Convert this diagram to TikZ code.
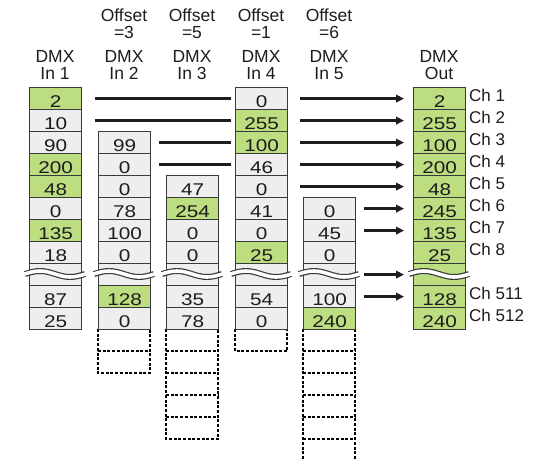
\documentclass[tikz,border=0pt]{standalone}
\usepackage{fontspec}
\setmainfont{Liberation Sans}
\usetikzlibrary{arrows.meta}
\definecolor{cgreen}{RGB}{188,221,128}
\definecolor{cgray}{RGB}{238,238,238}
\definecolor{cedge}{RGB}{58,58,58}
\definecolor{ink}{RGB}{30,28,28}
\newcommand\cellval[1]{\scalebox{1.22}[1]{#1}}
\begin{document}
\begin{tikzpicture}[x=1pt,y=-1pt,
  cellbox/.style={draw=cedge, line width=1.2pt, minimum width=52pt, minimum height=22pt,
    inner sep=0pt, anchor=north west, text height=17pt, text depth=0pt,
    font=\fontsize{17}{17}\selectfont, text=ink},
  gcell/.style={cellbox, fill=cgreen},
  wcell/.style={cellbox, fill=cgray},
  ghostline/.style={draw=black, line width=1.6pt, dash pattern=on 3pt off 1.7pt},
  head/.style={font=\fontsize{17.5}{17.5}\selectfont, text=ink, anchor=base, inner sep=0pt},
  chlab/.style={font=\fontsize{17}{17}\selectfont, text=ink, anchor=base west, inner sep=0pt},
  conn/.style={draw=ink, line width=3pt},
  arr/.style={conn, -{Triangle[length=8pt,width=7.5pt]}},
  wavedark/.style={draw=cedge, line width=6pt},
  wavelight/.style={draw=white, line width=3.6pt}
]
\useasboundingbox[fill=white] (0,0) rectangle (537,458);

% dashed empty cells below the shifted inputs
\draw[ghostline] (98,329) rectangle (150,373);
\draw[ghostline] (98,351) -- (150,351);
\draw[ghostline] (166,329) rectangle (218,439);
\foreach \y in {351,373,395,417} \draw[ghostline] (166,\y) -- (218,\y);
\draw[ghostline] (235,329) rectangle (287,351);
\draw[ghostline] (303,329) -- (303,462);
\draw[ghostline] (355,329) -- (355,462);
\foreach \y in {351,373,395,417,439} \draw[ghostline] (303,\y) -- (355,\y);

% column In 1
\foreach \r/\v/\s in {1/2/gcell,2/10/wcell,3/90/wcell,4/200/gcell,5/48/gcell,6/0/wcell,
    7/135/gcell,8/18/wcell,9//wcell,10/87/wcell,11/25/wcell}
  \node[\s] (a\r) at (29,{87+22*(\r-1)}) {\cellval{\v}};
% column In 2
\foreach \r/\v/\s in {3/99/wcell,4/0/wcell,5/0/wcell,6/78/wcell,7/100/wcell,8/0/wcell,
    9//wcell,10/128/gcell,11/0/wcell}
  \node[\s] (b\r) at (98,{87+22*(\r-1)}) {\cellval{\v}};
% column In 3
\foreach \r/\v/\s in {5/47/wcell,6/254/gcell,7/0/wcell,8/0/wcell,9//wcell,10/35/wcell,11/78/wcell}
  \node[\s] (c\r) at (166,{87+22*(\r-1)}) {\cellval{\v}};
% column In 4
\foreach \r/\v/\s in {1/0/wcell,2/255/gcell,3/100/gcell,4/46/wcell,5/0/wcell,6/41/wcell,
    7/0/wcell,8/25/gcell,9//wcell,10/54/wcell,11/0/wcell}
  \node[\s] (d\r) at (235,{87+22*(\r-1)}) {\cellval{\v}};
% column In 5
\foreach \r/\v/\s in {6/0/wcell,7/45/wcell,8/0/wcell,9//wcell,10/100/wcell,11/240/gcell}
  \node[\s] (e\r) at (303,{87+22*(\r-1)}) {\cellval{\v}};
% column Out
\foreach \r/\v in {1/2,2/255,3/100,4/200,5/48,6/245,7/135,8/25,9/,10/128,11/240}
  \node[gcell] (o\r) at (413,{87+22*(\r-1)}) {\cellval{\v}};

% break waves
\foreach \L in {29,98,166,235,303,413} {
  \draw[wavedark] ({\L-4},274) sin ({\L+11},271) cos ({\L+26},274) sin ({\L+41},277) cos ({\L+56},274);
  \draw[wavelight] ({\L-4.5},274) sin ({\L+11},271) cos ({\L+26},274) sin ({\L+41},277) cos ({\L+56.5},274);
}

% headers
\node[head] (ho2) at (124,21) {Offset};
\node[head] (he2) at (124,38.3) {=3};
\node[head] (ho3) at (192,21) {Offset};
\node[head] (he3) at (192,38.3) {=5};
\node[head] (ho4) at (261,21) {Offset};
\node[head] (he4) at (261,38.3) {=1};
\node[head] (ho5) at (329,21) {Offset};
\node[head] (he5) at (329,38.3) {=6};
\foreach \n/\x/\t in {1/55/In 1,2/124/In 2,3/192/In 3,4/261/In 4,5/329/In 5,6/439/Out} {
  \node[head] (hd\n) at (\x,62.7) {DMX};
  \node[head] (hi\n) at (\x,79.3) {\t};
}

% channel labels
\foreach \r/\t in {1/Ch 1,2/Ch 2,3/Ch 3,4/Ch 4,5/Ch 5,6/Ch 6,7/Ch 7,8/Ch 8,10/Ch 511,11/Ch 512}
  \node[chlab] (ch\r) at (469,{87+22*(\r-1)+14.5}) {\t};

% connectors
\draw[conn] ([xshift=13pt]a1.east) -- ([xshift=-4pt]d1.west);
\draw[conn] ([xshift=13pt]a2.east) -- ([xshift=-4pt]d2.west);
\draw[conn] ([xshift=8pt]b3.east) -- ([xshift=-4pt]d3.west);
\draw[conn] ([xshift=8pt]b4.east) -- ([xshift=-4pt]d4.west);
\foreach \r in {1,...,5}
  \draw[arr] ([xshift=12pt]d\r.east) -- ([xshift=-9pt]o\r.west);
\foreach \r in {6,7,9,10}
  \draw[arr] ([xshift=8pt]e\r.east) -- ([xshift=-9pt]o\r.west);
\end{tikzpicture}
\end{document}
